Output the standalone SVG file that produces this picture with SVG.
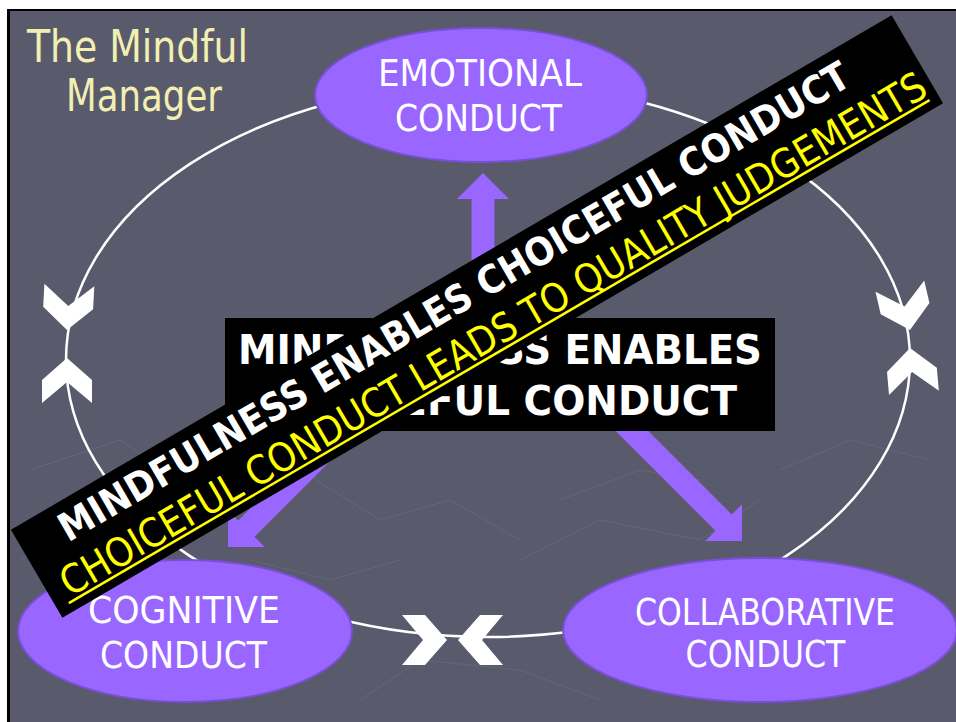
<svg xmlns="http://www.w3.org/2000/svg" xmlns:xlink="http://www.w3.org/1999/xlink" width="956" height="722" viewBox="0 0 956 722">
  <style>
    .bg { fill: #595b6c; }
    .grain { fill: none; stroke: #64667a; stroke-width: 1; }
    .loop { fill: none; stroke: #ffffff; stroke-width: 2.5; }
    .node { fill: #9966ff; stroke: #7a4fd6; stroke-width: 2; }
    .arrow { fill: #9966ff; }
    .chev { fill: #ffffff; }
    .label { font-family: "DejaVu Sans", "Noto Sans", sans-serif; font-size: 37px; fill: #ffffff; text-anchor: middle; }
    .title { font-family: "DejaVu Sans Condensed", "DejaVu Sans", sans-serif; font-size: 45px; fill: #f3efb2; text-anchor: middle; }
    .boxtext { font-family: "DejaVu Sans", sans-serif; font-weight: bold; font-size: 41px; fill: #ffffff; text-anchor: middle; }
    .band1 { font-family: "DejaVu Sans", sans-serif; font-weight: bold; font-size: 39px; fill: #ffffff; }
    .band2 { font-family: "DejaVu Sans", sans-serif; font-size: 40px; fill: #ffff00; }
  </style>
  <defs>
    <!-- white chevron arrowhead, tip at origin, pointing along +x -->
    <path id="chev" d="M0,0 L-22,-25 L-45,-25 L-24,0 L-45,25 L-22,25 Z"/>
  </defs>

  <!-- page and slide frame -->
  <rect x="0" y="0" width="956" height="722" fill="#ffffff"/>
  <rect x="7" y="9" width="949" height="713" fill="#000000"/>
  <rect class="bg" x="10" y="11" width="946" height="711"/>

  <!-- faint background grain lines of the slide theme -->
  <g id="grain">
    <polyline class="grain" points="30,470 120,440 180,480 260,460"/>
    <polyline class="grain" points="20,560 90,520 140,540"/>
    <polyline class="grain" points="360,700 420,660 520,670 600,700"/>
    <polyline class="grain" points="520,560 600,520 700,540 760,500"/>
    <polyline class="grain" points="560,500 640,470 700,480"/>
    <polyline class="grain" points="780,470 850,440 930,460"/>
    <polyline class="grain" points="300,470 380,520 450,500 520,540"/>
    <polyline class="grain" points="250,560 330,580 400,560"/>
  </g>

  <!-- title -->
  <g id="title">
    <text class="title" x="137.5" y="62" textLength="221" lengthAdjust="spacingAndGlyphs">The Mindful</text>
    <text class="title" x="144" y="111" textLength="156" lengthAdjust="spacingAndGlyphs">Manager</text>
  </g>

  <!-- connectors: the cycle loop, its chevrons and the purple arrows from the centre -->
  <g id="connectors">
    <ellipse class="loop" cx="488" cy="360" rx="422" ry="277"/>
    <polygon class="arrow" transform="translate(483,173) rotate(-90)" points="0,0 -26,-26 -26,-11.5 -160,-11.5 -160,11.5 -26,11.5 -26,26"/>
    <polygon class="arrow" transform="translate(742,541) rotate(45)" points="0,0 -26,-26 -26,-11.5 -200,-11.5 -200,11.5 -26,11.5 -26,26"/>
    <polygon class="arrow" transform="translate(228,547) rotate(135)" points="0,0 -26,-26 -26,-11.5 -200,-11.5 -200,11.5 -26,11.5 -26,26"/>
  </g>

  <g id="node-emotional">
    <ellipse class="node" cx="481" cy="95" rx="166" ry="67"/>
    <text class="label" x="480" y="86" textLength="204" lengthAdjust="spacingAndGlyphs">EMOTIONAL</text>
    <text class="label" x="478.5" y="131" textLength="167" lengthAdjust="spacingAndGlyphs">CONDUCT</text>
  </g>

  <g id="node-cognitive">
    <ellipse class="node" cx="185" cy="631" rx="167" ry="71"/>
    <text class="label" x="184" y="623" textLength="192" lengthAdjust="spacingAndGlyphs">COGNITIVE</text>
    <text class="label" x="183.5" y="668" textLength="167" lengthAdjust="spacingAndGlyphs">CONDUCT</text>
  </g>

  <g id="node-collaborative">
    <ellipse class="node" cx="760" cy="630" rx="197" ry="72"/>
    <text class="label" x="765" y="625" textLength="260" lengthAdjust="spacingAndGlyphs">COLLABORATIVE</text>
    <text class="label" x="765.5" y="667" textLength="160" lengthAdjust="spacingAndGlyphs">CONDUCT</text>
  </g>

  <g id="chevrons">
    <use xlink:href="#chev" class="chev" transform="translate(447,640)"/>
    <use xlink:href="#chev" class="chev" transform="translate(458,640) rotate(180)"/>
    <use xlink:href="#chev" class="chev" transform="translate(67,330) rotate(93)"/>
    <use xlink:href="#chev" class="chev" transform="translate(67,358) rotate(-90)"/>
    <use xlink:href="#chev" class="chev" transform="translate(910,330) rotate(77)"/>
    <use xlink:href="#chev" class="chev" transform="translate(910,348) rotate(-95)"/>
  </g>

  <g id="node-centre">
    <rect x="225" y="318" width="550" height="113" fill="#000000"/>
    <text class="boxtext" x="500" y="364" textLength="524" lengthAdjust="spacingAndGlyphs">MINDFULNESS ENABLES</text>
    <text class="boxtext" x="500" y="415" textLength="474" lengthAdjust="spacingAndGlyphs">CHOICEFUL CONDUCT</text>
  </g>

  <!-- diagonal banner across the slide -->
  <g id="banner" transform="translate(477,316.5) rotate(-30.3)">
    <rect x="-510" y="-51" width="1020" height="102" fill="#000000"/>
    <text class="band1" x="-467" y="-11" textLength="909" lengthAdjust="spacingAndGlyphs">MINDFULNESS ENABLES CHOICEFUL CONDUCT</text>
    <text class="band2" x="-493" y="37" textLength="996" lengthAdjust="spacingAndGlyphs">CHOICEFUL CONDUCT LEADS TO QUALITY JUDGEMENTS</text>
    <line x1="-497" y1="41.5" x2="500" y2="41.5" stroke="#ffff00" stroke-width="2.5"/>
  </g>
</svg>
